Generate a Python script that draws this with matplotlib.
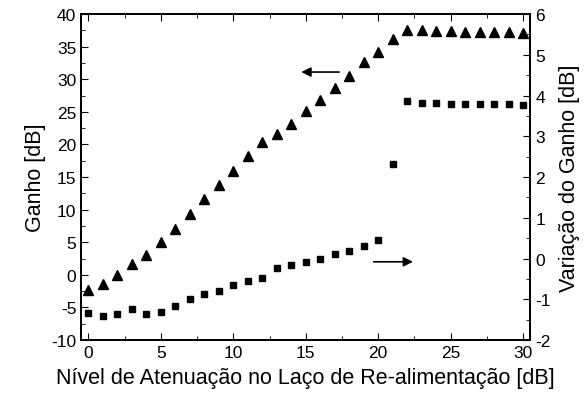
import matplotlib
matplotlib.use("Agg")
import matplotlib.pyplot as plt
from matplotlib.ticker import MultipleLocator
import numpy as np

plt.rcParams['font.family'] = ['Liberation Sans', 'DejaVu Sans']
plt.rcParams['axes.unicode_minus'] = False

# attenuation in the feedback loop [dB]
atten = list(range(0, 31))

# gain [dB] (triangles, left axis)
ganho = [-2.4, -1.4, -0.1, 1.7, 3.0, 5.0, 7.1, 9.4, 11.7, 13.8,
         16.0, 18.3, 20.4, 21.6, 23.2, 25.2, 26.8, 28.6, 30.5, 32.7,
         34.1, 36.1, 37.5, 37.5, 37.4, 37.4, 37.3, 37.3, 37.2, 37.2, 37.1]

# gain variation [dB] (squares, right axis)
variacao = [-1.34, -1.42, -1.35, -1.25, -1.36, -1.31, -1.16, -1.0, -0.88, -0.80,
            -0.66, -0.55, -0.47, -0.22, -0.15, -0.08, 0.0, 0.11, 0.19, 0.30,
            0.46, 2.33, 3.86, 3.81, 3.81, 3.79, 3.79, 3.79, 3.78, 3.78, 3.77]

fig = plt.figure(figsize=(5.84, 4.06), dpi=100)
ax = fig.add_axes([0.139, 0.160, 0.769, 0.803])
ax2 = ax.twinx()

ax.plot(atten, ganho, linestyle="none", marker="^", color="k", markersize=6.5)
ax2.plot(atten, variacao, linestyle="none", marker="s", color="k", markersize=4.8)

ax.set_xlim(-0.5, 30.5)
ax.set_ylim(-10, 40)
ax2.set_ylim(-2, 6)

ax.xaxis.set_major_locator(MultipleLocator(5))
ax.xaxis.set_minor_locator(MultipleLocator(2.5))
ax.yaxis.set_major_locator(MultipleLocator(5))
ax.yaxis.set_minor_locator(MultipleLocator(2.5))
ax2.yaxis.set_major_locator(MultipleLocator(1))
ax2.yaxis.set_minor_locator(MultipleLocator(0.5))

ax.tick_params(which="both", direction="in", top=True, labelsize=12.5)
ax.tick_params(which="major", length=5)
ax.tick_params(which="minor", length=3)
ax2.tick_params(which="both", direction="in", labelsize=12.5)
ax2.tick_params(which="major", length=5)
ax2.tick_params(which="minor", length=3)

for a in (ax, ax2):
    for s in a.spines.values():
        s.set_linewidth(1.3)

ax.set_xlabel("Nível de Atenuação no Laço de Re-alimentação [dB]", fontsize=15.5, labelpad=5)
ax.set_ylabel("Ganho [dB]", fontsize=15.5, labelpad=4)
ax2.set_ylabel("Variação do Ganho [dB]", fontsize=15.5, labelpad=6)

# arrows pointing to each series' axis
ax.annotate("", xy=(14.5, 31.1), xytext=(17.5, 31.1),
            arrowprops=dict(arrowstyle="-|>", color="k", lw=1.2, mutation_scale=14))
ax.annotate("", xy=(22.6, 2.0), xytext=(19.5, 2.0),
            arrowprops=dict(arrowstyle="-|>", color="k", lw=1.2, mutation_scale=14))

fig.savefig("out.png", dpi=100)
